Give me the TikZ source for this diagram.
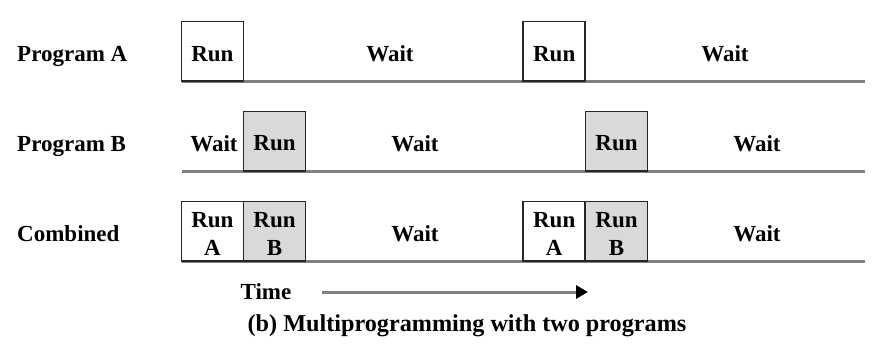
\documentclass[tikz,border=0pt]{standalone}
\usepackage{fontspec}
\setmainfont{Liberation Serif}
\usetikzlibrary{arrows.meta}
\definecolor{linegray}{HTML}{808080}
\definecolor{boxgray}{HTML}{D9D9D9}
\definecolor{edgedark}{HTML}{262626}
\begin{document}
\begin{tikzpicture}[x=1pt,y=-1pt,
  txt/.style={font=\fontsize{23}{28}\selectfont\bfseries, inner sep=0pt, align=center},
  lbl/.style={font=\fontsize{23}{28}\selectfont\bfseries, inner sep=0pt, anchor=base},
  runbox/.style={draw=edgedark, line width=1.5pt, fill=white, minimum width=62pt, minimum height=59.5pt, inner sep=0pt},
  runboxb/.style={runbox, fill=boxgray},
  baseline/.style={draw=linegray, line width=3pt},
]
\useasboundingbox (0,0) rectangle (878,356);

% row labels
\node[lbl, anchor=base west] (la) at (17,61.5) {Program A};
\node[lbl, anchor=base west] (lb) at (17,151) {Program B};
\node[lbl, anchor=base west] (lc) at (17,241) {Combined};

% end coordinates of time lines
\coordinate (sa) at (181.5,81);
\coordinate (ea) at (865,81);
\coordinate (sb) at (181.5,171);
\coordinate (eb) at (865,171);
\coordinate (sc) at (181.5,261);
\coordinate (ec) at (865,261);

% baselines
\draw[baseline] (sa) -- (ea);
\draw[baseline] (sb) -- (eb);
\draw[baseline] (sc) -- (ec);

% Program A
\node[runbox] (a1) at (212.4,51.3) {};
\node[runbox] (a2) at (554.2,51.3) {};
\node[txt] (ta1) at ([yshift=-2.5pt]a1.center) {Run};
\node[txt] (ta2) at ([yshift=-2.5pt]a2.center) {Run};
\node[lbl] (wa1) at (390,61.5) {Wait};
\node[lbl] (wa2) at (725,61.5) {Wait};

% Program B
\node[runboxb] (b1) at (274.5,141) {};
\node[runboxb] (b2) at (616.5,141) {};
\node[txt] (tb1) at ([yshift=-2.5pt]b1.center) {Run};
\node[txt] (tb2) at ([yshift=-2.5pt]b2.center) {Run};
\node[lbl] (wb0) at (214,151) {Wait};
\node[lbl] (wb1) at (415,151) {Wait};
\node[lbl] (wb2) at (757,151) {Wait};

% Combined
\node[runbox] (c1) at (212.4,231.3) {};
\node[runboxb] (c2) at (274.5,231.3) {};
\node[runbox] (c3) at (554.2,231.3) {};
\node[runboxb] (c4) at (616.5,231.3) {};
\node[txt] (tc1) at ([yshift=-2.5pt]c1.center) {Run\\A};
\node[txt] (tc2) at ([yshift=-2.5pt]c2.center) {Run\\B};
\node[txt] (tc3) at ([yshift=-2.5pt]c3.center) {Run\\A};
\node[txt] (tc4) at ([yshift=-2.5pt]c4.center) {Run\\B};
\node[lbl] (wc1) at (415,241) {Wait};
\node[lbl] (wc2) at (757,241) {Wait};

% time arrow
\node[lbl] (time) at (266,299) {Time};
\coordinate (ts) at (322,292);
\coordinate (te) at (588,292);
\draw[draw=linegray, line width=3pt, -{Triangle[length=12pt,width=13pt,color=black]}] (ts) -- (te);

% caption
\node[lbl, font=\fontsize{24.2}{26}\selectfont\bfseries] (cap) at (467,331) {(b) Multiprogramming with two programs};
\end{tikzpicture}
\end{document}
